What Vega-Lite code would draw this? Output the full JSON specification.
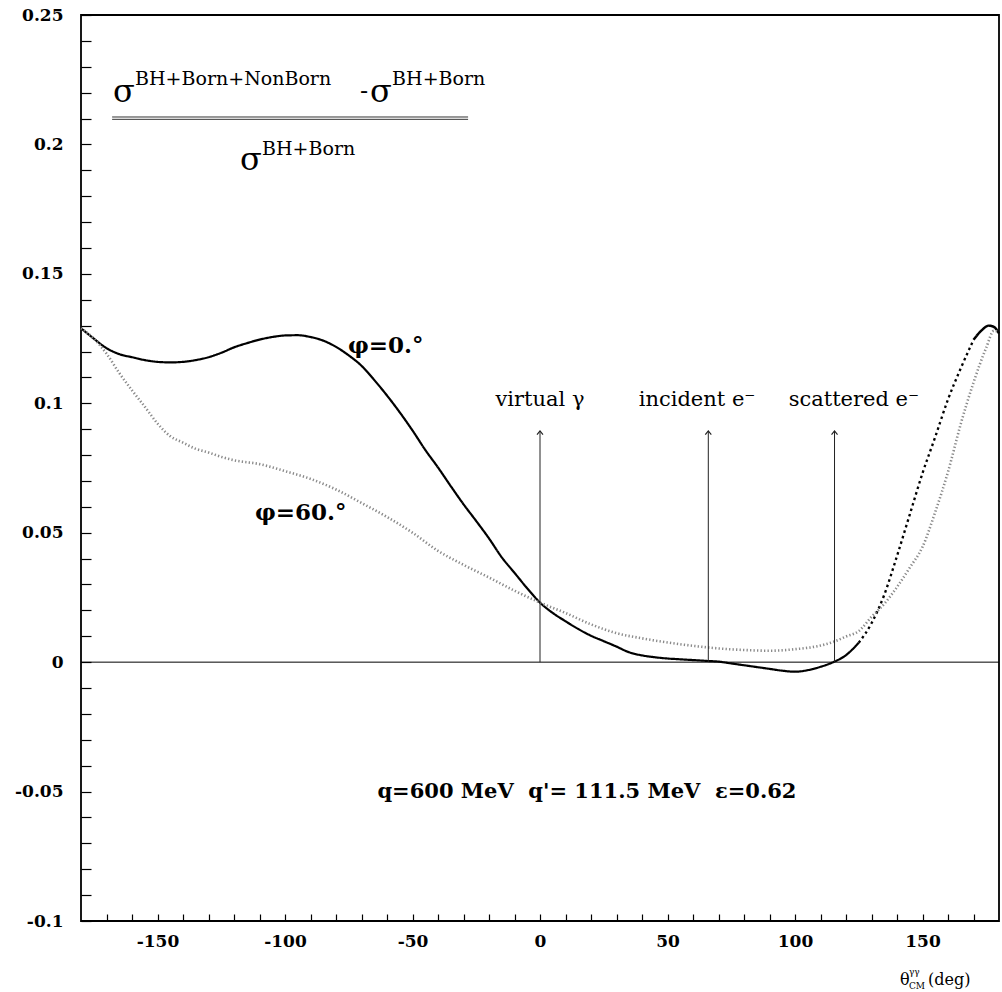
{
  "$schema": "https://vega.github.io/schema/vega-lite/v6.json",
  "width": 918,
  "height": 906,
  "autosize": "none",
  "padding": {"left": 81, "top": 15, "right": 3, "bottom": 71},
  "background": "white",
  "config": {"view": {"stroke": "black", "strokeWidth": 1.8}},
  "datasets": {
    "curves": [
      {"s":"phi0a","x":-180,"y":0.129},{"s":"phi0a","x":-175,"y":0.125},{"s":"phi0a","x":-170,"y":0.1213},{"s":"phi0a","x":-165,"y":0.119},{"s":"phi0a","x":-160,"y":0.1178},{"s":"phi0a","x":-155,"y":0.1167},{"s":"phi0a","x":-150,"y":0.116},{"s":"phi0a","x":-145,"y":0.1158},{"s":"phi0a","x":-140,"y":0.116},{"s":"phi0a","x":-135,"y":0.1167},{"s":"phi0a","x":-130,"y":0.1178},{"s":"phi0a","x":-125,"y":0.1195},{"s":"phi0a","x":-120,"y":0.1216},{"s":"phi0a","x":-115,"y":0.1232},{"s":"phi0a","x":-110,"y":0.1246},{"s":"phi0a","x":-105,"y":0.1256},{"s":"phi0a","x":-100,"y":0.1262},{"s":"phi0a","x":-95,"y":0.1263},{"s":"phi0a","x":-90,"y":0.1256},{"s":"phi0a","x":-85,"y":0.1242},{"s":"phi0a","x":-80,"y":0.1218},{"s":"phi0a","x":-75,"y":0.1185},{"s":"phi0a","x":-70,"y":0.1145},{"s":"phi0a","x":-65,"y":0.109},{"s":"phi0a","x":-60,"y":0.103},{"s":"phi0a","x":-55,"y":0.0965},{"s":"phi0a","x":-50,"y":0.0895},{"s":"phi0a","x":-45,"y":0.082},{"s":"phi0a","x":-40,"y":0.0752},{"s":"phi0a","x":-35,"y":0.068},{"s":"phi0a","x":-30,"y":0.061},{"s":"phi0a","x":-25,"y":0.0545},{"s":"phi0a","x":-20,"y":0.0478},{"s":"phi0a","x":-15,"y":0.0405},{"s":"phi0a","x":-10,"y":0.0345},{"s":"phi0a","x":-5,"y":0.0285},{"s":"phi0a","x":0,"y":0.023},{"s":"phi0a","x":5,"y":0.019},{"s":"phi0a","x":10,"y":0.0158},{"s":"phi0a","x":15,"y":0.0128},{"s":"phi0a","x":20,"y":0.0102},{"s":"phi0a","x":25,"y":0.0081},{"s":"phi0a","x":30,"y":0.006},{"s":"phi0a","x":35,"y":0.0038},{"s":"phi0a","x":40,"y":0.0026},{"s":"phi0a","x":45,"y":0.0019},{"s":"phi0a","x":50,"y":0.0014},{"s":"phi0a","x":55,"y":0.0011},{"s":"phi0a","x":60,"y":0.0008},{"s":"phi0a","x":65,"y":0.0005},{"s":"phi0a","x":70,"y":0.0002},{"s":"phi0a","x":75,"y":-0.0005},{"s":"phi0a","x":80,"y":-0.0012},{"s":"phi0a","x":85,"y":-0.0019},{"s":"phi0a","x":90,"y":-0.0026},{"s":"phi0a","x":95,"y":-0.0033},{"s":"phi0a","x":100,"y":-0.0037},{"s":"phi0a","x":105,"y":-0.0031},{"s":"phi0a","x":110,"y":-0.0018},{"s":"phi0a","x":115,"y":0.0},{"s":"phi0a","x":120,"y":0.0027},{"s":"phi0a","x":125,"y":0.0075},
      {"s":"phi0b","x":125,"y":0.0075},{"s":"phi0b","x":130,"y":0.015},{"s":"phi0b","x":135,"y":0.026},{"s":"phi0b","x":140,"y":0.041},{"s":"phi0b","x":145,"y":0.057},{"s":"phi0b","x":150,"y":0.073},{"s":"phi0b","x":155,"y":0.087},{"s":"phi0b","x":160,"y":0.1015},{"s":"phi0b","x":165,"y":0.1135},{"s":"phi0b","x":170,"y":0.1245},
      {"s":"phi0c","x":170,"y":0.1245},{"s":"phi0c","x":173,"y":0.128},{"s":"phi0c","x":176,"y":0.13},{"s":"phi0c","x":178,"y":0.1295},{"s":"phi0c","x":180,"y":0.127},
      {"s":"phi60","x":-180,"y":0.129},{"s":"phi60","x":-175,"y":0.125},{"s":"phi60","x":-170,"y":0.1192},{"s":"phi60","x":-165,"y":0.1117},{"s":"phi60","x":-160,"y":0.105},{"s":"phi60","x":-155,"y":0.0987},{"s":"phi60","x":-150,"y":0.0922},{"s":"phi60","x":-145,"y":0.0873},{"s":"phi60","x":-140,"y":0.0848},{"s":"phi60","x":-135,"y":0.0824},{"s":"phi60","x":-130,"y":0.081},{"s":"phi60","x":-125,"y":0.0793},{"s":"phi60","x":-120,"y":0.078},{"s":"phi60","x":-110,"y":0.0765},{"s":"phi60","x":-100,"y":0.0738},{"s":"phi60","x":-90,"y":0.0708},{"s":"phi60","x":-80,"y":0.0667},{"s":"phi60","x":-70,"y":0.0615},{"s":"phi60","x":-60,"y":0.0561},{"s":"phi60","x":-50,"y":0.05},{"s":"phi60","x":-40,"y":0.043},{"s":"phi60","x":-30,"y":0.0376},{"s":"phi60","x":-20,"y":0.0327},{"s":"phi60","x":-10,"y":0.0276},{"s":"phi60","x":0,"y":0.023},{"s":"phi60","x":10,"y":0.019},{"s":"phi60","x":20,"y":0.0146},{"s":"phi60","x":30,"y":0.0112},{"s":"phi60","x":40,"y":0.0092},{"s":"phi60","x":50,"y":0.0076},{"s":"phi60","x":60,"y":0.0063},{"s":"phi60","x":70,"y":0.0053},{"s":"phi60","x":80,"y":0.0047},{"s":"phi60","x":90,"y":0.0044},{"s":"phi60","x":100,"y":0.005},{"s":"phi60","x":110,"y":0.0064},{"s":"phi60","x":115,"y":0.0078},{"s":"phi60","x":120,"y":0.0099},{"s":"phi60","x":125,"y":0.012},{"s":"phi60","x":130,"y":0.0175},{"s":"phi60","x":135,"y":0.0225},{"s":"phi60","x":140,"y":0.029},{"s":"phi60","x":145,"y":0.0365},{"s":"phi60","x":150,"y":0.0445},{"s":"phi60","x":155,"y":0.058},{"s":"phi60","x":160,"y":0.0735},{"s":"phi60","x":165,"y":0.092},{"s":"phi60","x":170,"y":0.108},{"s":"phi60","x":175,"y":0.1215},{"s":"phi60","x":178,"y":0.128},{"s":"phi60","x":180,"y":0.1275}
    ],
    "arrows": [{"x":0,"y":0,"y2":0.0893},{"x":66,"y":0,"y2":0.0893},{"x":115.5,"y":0,"y2":0.0893}],
    "arrowLabels": [{"x":0,"y":0.0991,"t":"virtual γ"},{"x":61.6,"y":0.0991,"t":"incident e⁻"},{"x":123.1,"y":0.0991,"t":"scattered e⁻"}],
    "phiLabels": [{"x":-75.3,"y":0.1194,"t":"φ=0.°"},{"x":-111.8,"y":0.0549,"t":"φ=60.°"}],
    "kinematics": [{"x":18.4,"y":-0.05,"t":"q=600 MeV\u00a0\u00a0q'= 111.5 MeV\u00a0\u00a0ε=0.62"}],
    "sigmas": [{"x":-167.5,"y":0.2164,"t":"σ"},{"x":-66.7,"y":0.2164,"t":"σ"},{"x":-117.6,"y":0.1901,"t":"σ"}],
    "supers": [{"x":-158.8,"y":0.223,"t":"BH+Born+NonBorn"},{"x":-58,"y":0.223,"t":"BH+Born"},{"x":-109,"y":0.1959,"t":"BH+Born"}],
    "minus": [{"x":-70.6,"y":0.2175,"t":"-"}],
    "fractionBar": [{"x":-167.8,"x2":-28.2,"y":0.2106},{"x":-167.8,"x2":-28.2,"y":0.2097}],
    "zeroLine": [{"x":-180,"x2":180,"y":0}],
    "axisTitleMain": [{"x":141.2,"y":-0.1248,"t":"θ"},{"x":152.2,"y":-0.1248,"t":"(deg)"}],
    "axisTitleSmall": [{"x":144.7,"y":-0.1208,"t":"γγ"},{"x":144.7,"y":-0.1262,"t":"CM"}]
  },
  "encoding": {
    "x": {"field": "x", "type": "quantitative", "title": null,
      "scale": {"domain": [-180, 180], "nice": false, "zero": false},
      "axis": {"orient": "bottom", "title": null, "domain": false, "grid": false,
        "values": [-170,-160,-150,-140,-130,-120,-110,-100,-90,-80,-70,-60,-50,-40,-30,-20,-10,0,10,20,30,40,50,60,70,80,90,100,110,120,130,140,150,160,170],
        "tickColor": "black", "tickWidth": 1.2, "tickSize": -7,
        "encode": {"ticks": {"y2": {"signal": "datum.value % 50 === 0 ? -14 : -7"}}},
        "labelExpr": "datum.value % 50 === 0 ? replace(datum.label, '−', '-') : ''",
        "labelFont": "DejaVu Serif", "labelFontWeight": "bold", "labelFontSize": 17, "labelColor": "black",
        "labelPadding": 19, "labelFlush": false, "labelOverlap": false}},
    "y": {"field": "y", "type": "quantitative", "title": null,
      "scale": {"domain": [-0.1, 0.25], "nice": false, "zero": false},
      "axis": {"orient": "left", "title": null, "domain": false, "grid": false,
        "values": [-0.1,-0.09,-0.08,-0.07,-0.06,-0.05,-0.04,-0.03,-0.02,-0.01,0,0.01,0.02,0.03,0.04,0.05,0.06,0.07,0.08,0.09,0.1,0.11,0.12,0.13,0.14,0.15,0.16,0.17,0.18,0.19,0.2,0.21,0.22,0.23,0.24,0.25],
        "format": "~g",
        "tickColor": "black", "tickWidth": 1.2, "tickSize": -10,
        "encode": {"ticks": {"x2": {"signal": "abs(round(datum.value*100)) % 5 === 0 ? 17 : 10"}}},
        "labelExpr": "abs(round(datum.value*100)) % 5 === 0 ? replace(datum.label, '−', '-') : ''",
        "labelFont": "DejaVu Serif", "labelFontWeight": "bold", "labelFontSize": 17, "labelColor": "black",
        "labelPadding": 28, "labelFlush": false, "labelOverlap": false}}
  },
  "layer": [
    {
      "data": {"name": "curves"},
      "mark": {"type": "line", "interpolate": "monotone"},
      "encoding": {
        "detail": {"field": "s", "type": "nominal"},
        "color": {"field": "s", "type": "nominal", "scale": {"domain": ["phi0a", "phi0b", "phi0c", "phi60"], "range": ["#000000", "#000000", "#000000", "#8a8a8a"]}, "legend": null},
        "strokeDash": {"field": "s", "type": "nominal", "scale": {"domain": ["phi0a", "phi0b", "phi0c", "phi60"], "range": [[1, 0], [2.5, 3.2], [1, 0], [1.3, 2.2]]}, "legend": null},
        "strokeWidth": {"field": "s", "type": "nominal", "scale": {"domain": ["phi0a", "phi0b", "phi0c", "phi60"], "range": [2.2, 2.6, 2.2, 1.1]}, "legend": null}
      }
    },
    {
      "data": {"name": "zeroLine"},
      "mark": {"type": "rule", "color": "black", "strokeWidth": 1},
      "encoding": {"x2": {"field": "x2"}}
    },
    {
      "data": {"name": "fractionBar"},
      "mark": {"type": "rule", "color": "#333333", "strokeWidth": 1},
      "encoding": {"x2": {"field": "x2"}}
    },
    {
      "data": {"name": "arrows"},
      "mark": {"type": "rule", "color": "#222222", "strokeWidth": 1},
      "encoding": {"y2": {"field": "y2"}}
    },
    {
      "data": {"name": "arrows"},
      "mark": {"type": "point", "shape": "M -0.5 0.6 L 0 0 L 0.5 0.6", "filled": false, "stroke": "#222222", "strokeWidth": 1.2, "size": 144, "opacity": 1},
      "encoding": {"y": {"field": "y2", "type": "quantitative", "title": null}}
    },
    {
      "data": {"name": "arrowLabels"},
      "mark": {"type": "text", "align": "center", "baseline": "alphabetic", "font": "DejaVu Serif", "fontSize": 21, "color": "black"},
      "encoding": {"text": {"field": "t"}}
    },
    {
      "data": {"name": "phiLabels"},
      "mark": {"type": "text", "align": "left", "baseline": "alphabetic", "font": "DejaVu Serif", "fontSize": 23, "fontWeight": "bold", "color": "black"},
      "encoding": {"text": {"field": "t"}}
    },
    {
      "data": {"name": "kinematics"},
      "mark": {"type": "text", "align": "center", "baseline": "middle", "font": "DejaVu Serif", "fontSize": 21, "fontWeight": "bold", "color": "black"},
      "encoding": {"text": {"field": "t"}}
    },
    {
      "data": {"name": "sigmas"},
      "mark": {"type": "text", "align": "left", "baseline": "alphabetic", "font": "DejaVu Serif", "fontSize": 32, "color": "black"},
      "encoding": {"text": {"field": "t"}}
    },
    {
      "data": {"name": "supers"},
      "mark": {"type": "text", "align": "left", "baseline": "alphabetic", "font": "DejaVu Serif", "fontSize": 19, "color": "black"},
      "encoding": {"text": {"field": "t"}}
    },
    {
      "data": {"name": "minus"},
      "mark": {"type": "text", "align": "left", "baseline": "alphabetic", "font": "DejaVu Serif", "fontSize": 24, "color": "black"},
      "encoding": {"text": {"field": "t"}}
    },
    {
      "data": {"name": "axisTitleMain"},
      "mark": {"type": "text", "align": "left", "baseline": "alphabetic", "font": "DejaVu Serif", "fontSize": 16, "color": "black"},
      "encoding": {"text": {"field": "t"}}
    },
    {
      "data": {"name": "axisTitleSmall"},
      "mark": {"type": "text", "align": "left", "baseline": "alphabetic", "font": "DejaVu Serif", "fontSize": 9, "color": "black"},
      "encoding": {"text": {"field": "t"}}
    }
  ]
}
